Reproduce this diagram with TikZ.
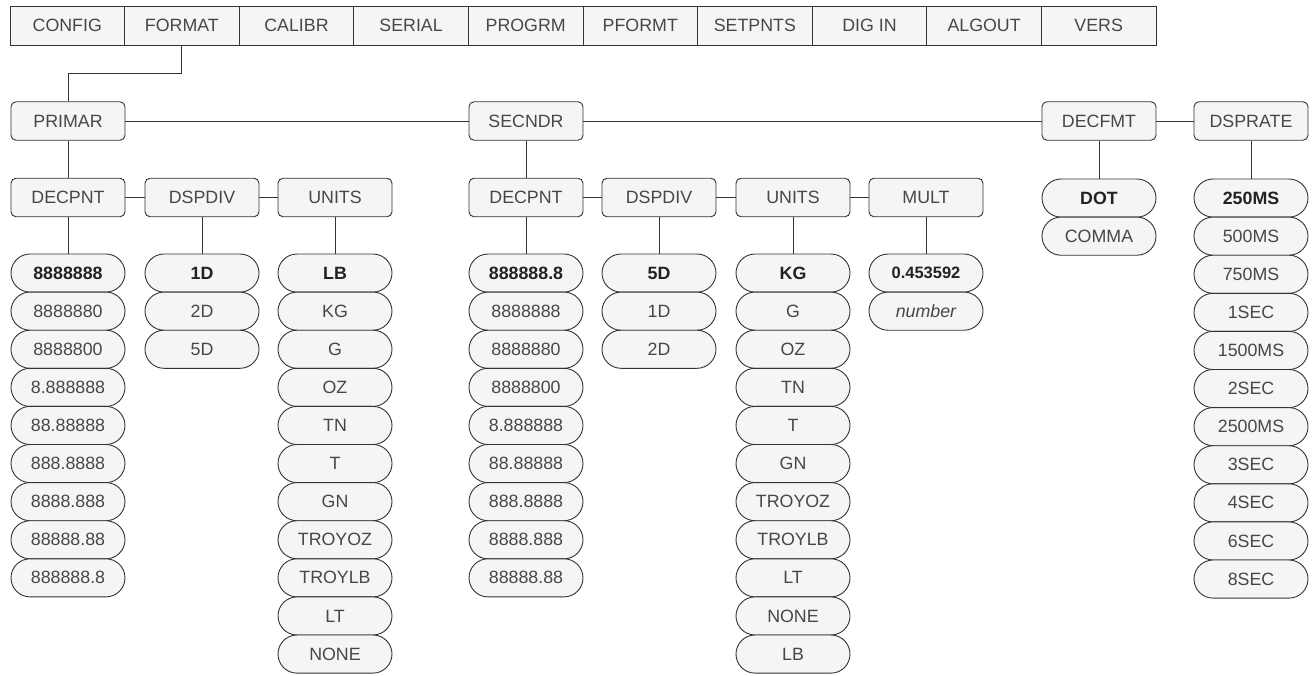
\documentclass[tikz,border=0pt]{standalone}
\usepackage{fontspec}
\setmainfont{Liberation Sans}
\definecolor{linec}{HTML}{333333}
\definecolor{boxfill}{HTML}{F5F5F5}
\definecolor{txt}{HTML}{474747}
\definecolor{txtb}{HTML}{222222}
\begin{document}
\begin{tikzpicture}[x=1pt,y=-1pt,
  every node/.style={font=\fontsize{17.8}{20}\selectfont, text=txt},
  menubox/.style={draw=linec, line width=0.9pt, fill=boxfill, minimum width=114.6pt, minimum height=39pt, inner sep=0pt},
  rbox/.style={draw=linec, line width=0.9pt, fill=boxfill, rounded corners=5pt, minimum width=114pt, minimum height=38.5pt, inner sep=0pt},
  pill/.style={draw=linec, line width=0.9pt, fill=boxfill, rounded corners=19pt, minimum width=114pt, minimum height=38.1pt, inner sep=0pt},
  sel/.style={font=\fontsize{17.8}{20}\selectfont\bfseries, text=txtb},
  conn/.style={draw=linec, line width=0.9pt}
]
\useasboundingbox (0,0) rectangle (1312,675);

% top menu bar
\foreach \t [count=\i from 0] in {CONFIG,FORMAT,CALIBR,SERIAL,PROGRM,PFORMT,SETPNTS,DIG IN,ALGOUT,VERS} {
  \node[menubox] (m\i) at (10+57.3+\i*114.6, 25.5) {\t};
}

% level 2
\node[rbox] (primar) at (68,121) {PRIMAR};
\node[rbox] (secndr) at (526,121) {SECNDR};
\node[rbox] (decfmt) at (1099,121) {DECFMT};
\node[rbox] (dsprate) at (1251,121) {DSPRATE};

% level 3
\node[rbox] (pdec) at (68,197.5) {DECPNT};
\node[rbox] (pdiv) at (202,197.5) {DSPDIV};
\node[rbox] (punits) at (335,197.5) {UNITS};
\node[rbox] (sdec) at (526,197.5) {DECPNT};
\node[rbox] (sdiv) at (659,197.5) {DSPDIV};
\node[rbox] (sunits) at (793,197.5) {UNITS};
\node[rbox] (mult) at (926,197.5) {MULT};

% option pills
% primary DECPNT
\node[pill,sel] (pdec-0) at (68,273.05) {8888888};
\foreach \t [count=\i from 1] in {8888880,8888800,8.888888,88.88888,888.8888,8888.888,88888.88,888888.8} {
  \node[pill] (pdec-\i) at (68,273.05+\i*38.1) {\t};
}
% primary DSPDIV
\node[pill,sel] (pdiv-0) at (202,273.05) {1D};
\foreach \t [count=\i from 1] in {2D,5D} {
  \node[pill] (pdiv-\i) at (202,273.05+\i*38.1) {\t};
}
% primary UNITS
\node[pill,sel] (punits-0) at (335,273.05) {LB};
\foreach \t [count=\i from 1] in {KG,G,OZ,TN,T,GN,TROYOZ,TROYLB,LT,NONE} {
  \node[pill] (punits-\i) at (335,273.05+\i*38.1) {\t};
}
% secondary DECPNT
\node[pill,sel] (sdec-0) at (526,273.05) {888888.8};
\foreach \t [count=\i from 1] in {8888888,8888880,8888800,8.888888,88.88888,888.8888,8888.888,88888.88} {
  \node[pill] (sdec-\i) at (526,273.05+\i*38.1) {\t};
}
% secondary DSPDIV
\node[pill,sel] (sdiv-0) at (659,273.05) {5D};
\foreach \t [count=\i from 1] in {1D,2D} {
  \node[pill] (sdiv-\i) at (659,273.05+\i*38.1) {\t};
}
% secondary UNITS
\node[pill,sel] (sunits-0) at (793,273.05) {KG};
\foreach \t [count=\i from 1] in {G,OZ,TN,T,GN,TROYOZ,TROYLB,LT,NONE,LB} {
  \node[pill] (sunits-\i) at (793,273.05+\i*38.1) {\t};
}
% MULT
\node[pill,sel,font=\fontsize{16.5}{18}\selectfont\bfseries] (mult-0) at (926,273.05) {0.453592};
\node[pill,font=\fontsize{17.8}{20}\selectfont\itshape] (mult-1) at (926,311.15) {number};
% DECFMT
\node[pill,sel] (decfmt-0) at (1099,198.05) {DOT};
\node[pill] (decfmt-1) at (1099,236.15) {COMMA};
% DSPRATE
\node[pill,sel] (dsprate-0) at (1251,198.05) {250MS};
\foreach \t [count=\i from 1] in {500MS,750MS,1SEC,1500MS,2SEC,2500MS,3SEC,4SEC,6SEC,8SEC} {
  \node[pill] (dsprate-\i) at (1251,198.05+\i*38.1) {\t};
}

% connectors
\draw[conn] (m1.south) -- ++(0,28) -| (primar.north);
\draw[conn] (primar.east) -- (secndr.west);
\draw[conn] (secndr.east) -- (decfmt.west);
\draw[conn] (decfmt.east) -- (dsprate.west);
\draw[conn] (primar.south) -- (pdec.north);
\draw[conn] (secndr.south) -- (sdec.north);
\draw[conn] (pdec.east) -- (pdiv.west);
\draw[conn] (pdiv.east) -- (punits.west);
\draw[conn] (sdec.east) -- (sdiv.west);
\draw[conn] (sdiv.east) -- (sunits.west);
\draw[conn] (sunits.east) -- (mult.west);
\draw[conn] (pdec.south) -- (pdec-0.north);
\draw[conn] (pdiv.south) -- (pdiv-0.north);
\draw[conn] (punits.south) -- (punits-0.north);
\draw[conn] (sdec.south) -- (sdec-0.north);
\draw[conn] (sdiv.south) -- (sdiv-0.north);
\draw[conn] (sunits.south) -- (sunits-0.north);
\draw[conn] (mult.south) -- (mult-0.north);
\draw[conn] (decfmt.south) -- (decfmt-0.north);
\draw[conn] (dsprate.south) -- (dsprate-0.north);
\end{tikzpicture}
\end{document}
